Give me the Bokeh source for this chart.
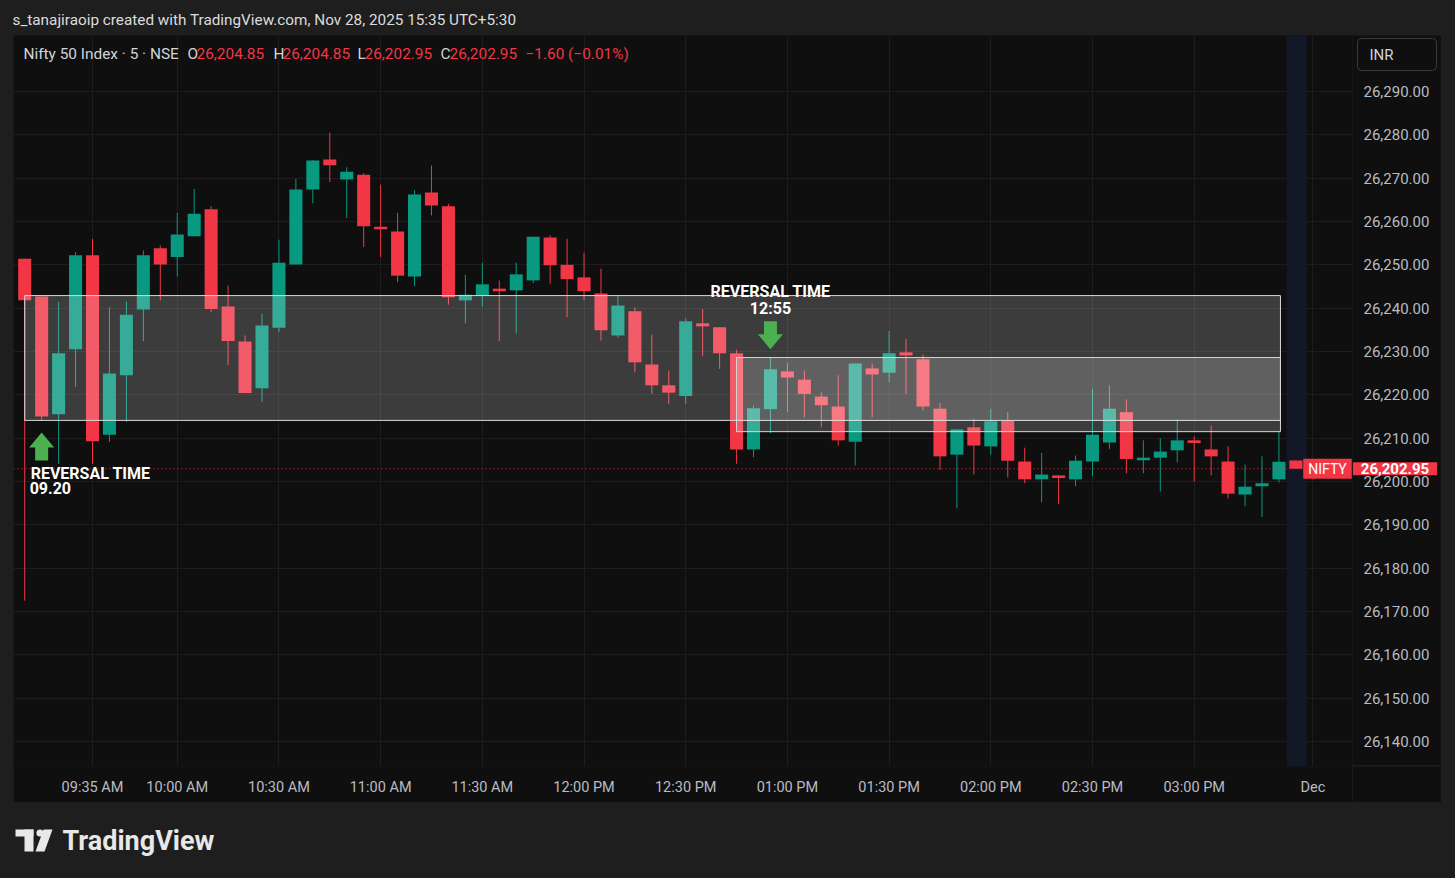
import pandas as pd
from bokeh.plotting import figure
from bokeh.models import (ColumnDataSource, Range1d, FixedTicker, Label, Span,
                          GlobalInlineStyleSheet)
from bokeh.core.properties import value
from bokeh.layouts import column, row
from bokeh.embed import file_html
from bokeh.resources import INLINE

# ---------------- data ----------------
session_start = "2025-11-28 09:15"
opens = [26251.4, 26242.7, 26215.5, 26230.5, 26252.2, 26210.8, 26224.5, 26239.7, 26253.8, 26251.8,
         26256.6, 26262.8, 26240.4, 26232.3, 26221.5, 26235.5, 26250.1, 26267.4, 26274.3, 26269.7,
         26270.8, 26258.8, 26257.7, 26247.3, 26266.7, 26263.5, 26241.8, 26242.8, 26244.5, 26244.1,
         26246.4, 26256.3, 26250.0, 26247.1, 26243.4, 26233.7, 26239.3, 26227.0, 26222.2, 26219.7,
         26236.5, 26235.6, 26229.6, 26207.4, 26216.7, 26225.4, 26223.5, 26219.6, 26217.3, 26209.2,
         26226.1, 26225.1, 26229.8, 26228.2, 26216.8, 26206.2, 26212.5, 26208.1, 26214.0, 26204.6,
         26200.5, 26201.4, 26200.5, 26204.6, 26209.0, 26216.0, 26204.9, 26205.5, 26207.2, 26209.5,
         26207.4, 26204.6, 26197.0, 26198.9, 26200.5, 26204.85]
highs = [26251.4, 26242.7, 26241.4, 26252.9, 26256.0, 26240.2, 26241.5, 26253.3, 26254.5, 26262.0,
         26267.5, 26263.5, 26245.2, 26233.7, 26238.7, 26255.8, 26269.8, 26274.2, 26280.5, 26272.5,
         26271.2, 26268.5, 26262.0, 26267.2, 26272.9, 26264.1, 26247.7, 26250.5, 26246.4, 26250.5,
         26256.5, 26256.8, 26256.0, 26252.8, 26249.1, 26242.9, 26240.2, 26233.9, 26225.6, 26237.7,
         26239.8, 26235.6, 26230.4, 26217.5, 26228.7, 26227.3, 26225.6, 26220.6, 26224.5, 26227.2,
         26227.2, 26234.7, 26232.9, 26229.3, 26218.1, 26212.0, 26214.5, 26216.8, 26216.0, 26207.8,
         26206.6, 26201.4, 26206.0, 26221.4, 26222.2, 26218.9, 26209.5, 26210.0, 26214.3, 26210.4,
         26212.9, 26208.1, 26203.9, 26205.8, 26211.4, 26204.85]
lows = [26172.5, 26214.1, 26204.1, 26221.8, 26204.1, 26209.1, 26213.7, 26232.4, 26241.8, 26247.3,
        26256.6, 26239.1, 26226.9, 26220.4, 26218.3, 26234.5, 26250.1, 26264.2, 26269.1, 26260.8,
        26254.1, 26251.8, 26246.0, 26245.1, 26261.4, 26240.8, 26236.5, 26240.4, 26232.4, 26234.2,
        26245.8, 26245.6, 26237.9, 26241.9, 26232.5, 26233.2, 26225.2, 26220.2, 26217.9, 26217.9,
        26228.9, 26226.0, 26204.1, 26205.6, 26211.1, 26216.0, 26214.8, 26212.5, 26208.3, 26203.7,
        26214.8, 26222.9, 26220.2, 26216.4, 26202.7, 26193.8, 26201.6, 26206.2, 26200.9, 26199.6,
        26195.2, 26194.8, 26198.9, 26201.2, 26207.5, 26201.9, 26201.9, 26197.7, 26204.4, 26200.0,
        26201.4, 26196.1, 26194.3, 26191.8, 26199.8, 26202.95]
closes = [26241.8, 26215.0, 26229.6, 26252.2, 26209.3, 26224.9, 26238.5, 26252.2, 26250.1, 26257.0,
          26261.8, 26239.8, 26232.4, 26220.4, 26236.0, 26250.5, 26267.4, 26274.1, 26273.0, 26271.5,
          26258.9, 26258.2, 26247.5, 26266.2, 26263.7, 26242.5, 26243.1, 26245.5, 26243.9, 26247.8,
          26256.5, 26249.9, 26246.7, 26243.9, 26234.9, 26240.6, 26227.5, 26222.2, 26220.5, 26237.0,
          26235.8, 26229.6, 26207.4, 26216.9, 26225.9, 26224.0, 26220.2, 26217.6, 26209.5, 26227.2,
          26224.7, 26229.6, 26229.1, 26217.3, 26205.8, 26212.0, 26208.3, 26213.9, 26204.8, 26200.5,
          26201.6, 26200.8, 26204.8, 26210.8, 26216.8, 26205.2, 26205.5, 26206.9, 26209.5, 26208.9,
          26205.8, 26197.2, 26198.8, 26199.6, 26204.55, 26202.95]

tick_times = ["09:35", "10:00", "10:30", "11:00", "11:30", "12:00", "12:30",
              "13:00", "13:30", "14:00", "14:30", "15:00", "Dec"]
tick_labels = ["09:35 AM", "10:00 AM", "10:30 AM", "11:00 AM", "11:30 AM", "12:00 PM", "12:30 PM",
               "01:00 PM", "01:30 PM", "02:00 PM", "02:30 PM", "03:00 PM", "Dec"]
price_ticks = [26140, 26150, 26160, 26170, 26180, 26190, 26200, 26210,
               26220, 26230, 26240, 26250, 26260, 26270, 26280, 26290]

zone_start = ["09:15", "12:45"]
zone_end = ["15:25", "15:25"]
zone_top = [26242.9, 26228.6]
zone_bottom = [26214.1, 26211.5]

reversal_times = ["09:20", "12:55"]
reversal_texts = ["09.20", "12:55"]
reversal_tips = [26211.3, 26230.5]
reversal_dirs = ["up", "down"]

symbol = "Nifty 50 Index · 5 · NSE"
ticker_name = "NIFTY"
currency = "INR"
header_text = "s_tanajiraoip created with TradingView.com, Nov 28, 2025 15:35 UTC+5:30"

# ---------------- derived ----------------
n = len(opens)
times = pd.date_range(session_start, periods=n, freq="5min").strftime("%H:%M").tolist()
pos = {t: i for i, t in enumerate(times)}
pos["Dec"] = n  # next session start

FONT = "Roboto"
BG = "#0f0f0f"
PAGE = "#1e1e1e"
UP, DOWN = "#089981", "#f23645"
TXT = "#d1d4dc"
AXTXT = "#b8bcc4"

FRAME_W, FRAME_H = 1339, 731
X0, X1 = -0.661, 78.34
Y0, Y1 = 26134.23, 26302.92
ux = (X1 - X0) / FRAME_W   # data units per pixel
uy = (Y1 - Y0) / FRAME_H

# ---------------- main chart pane ----------------
p = figure(width=FRAME_W, height=767, x_range=Range1d(X0, X1), y_range=Range1d(Y0, Y1),
           y_axis_location=None, output_backend="svg", toolbar_location=None,
           min_border_left=0, min_border_top=0, min_border_right=0, min_border_bottom=36,
           background_fill_color=BG, border_fill_color=BG, outline_line_color=None)
p.margin = (0, 0, 0, 13)

tick_pos = [pos[t] for t in tick_times]
p.xaxis.ticker = FixedTicker(ticks=tick_pos)
p.xaxis.major_label_overrides = {k: v for k, v in zip(tick_pos, tick_labels)}
p.xaxis.axis_line_color = None
p.xaxis.major_tick_line_color = None
p.xaxis.minor_tick_line_color = None
p.xaxis.major_label_text_color = AXTXT
p.xaxis.major_label_text_font = FONT
p.xaxis.major_label_text_font_size = "14.5px"
p.xaxis.major_label_standoff = 6
for g in p.ygrid:
    g.ticker = FixedTicker(ticks=price_ticks)
p.grid.grid_line_color = "#1d1d1d"

# last-bar highlight band
p.quad(left=[n - 1 - 0.55], right=[n - 1 + 0.65], bottom=[Y0], top=[Y1],
       fill_color="#121826", line_color=None)

src = ColumnDataSource(dict(
    x=list(range(n)), o=opens, h=highs, l=lows, c=closes,
    top=[max(o, c) for o, c in zip(opens, closes)],
    bottom=[min(o, c) for o, c in zip(opens, closes)],
    color=[UP if c >= o else DOWN for o, c in zip(opens, closes)],
))
p.segment(x0="x", y0="l", x1="x", y1="h", line_color="color", line_width=1, source=src)
p.vbar(x="x", top="top", bottom="bottom", width=0.77, fill_color="color", line_color=None, source=src)

# zones
p.quad(left=[pos[t] for t in zone_start], right=[pos[t] + 0.09 for t in zone_end],
       top=zone_top, bottom=zone_bottom, fill_color="white", fill_alpha=0.19,
       line_color="#d8d8d8", line_width=1)

# last price line
last_close = closes[-1]
p.add_layout(Span(location=last_close, dimension="width", line_color=DOWN,
                  line_dash="1 3", line_width=1))

# reversal arrows + labels
up_shape = [(0, 0), (12.5, -15), (6.5, -15), (6.5, -28), (-6.5, -28), (-6.5, -15), (-12.5, -15)]
lab_kw = dict(text_font=FONT, text_font_size="16px", text_font_style="bold",
              text_color="white", text_baseline="top")
for t, txt, tip, d in zip(reversal_times, reversal_texts, reversal_tips, reversal_dirs):
    xi = pos[t]
    sgn = 1 if d == "up" else -1
    xs = [xi + dx * ux for dx, dy in up_shape]
    ys = [tip + sgn * dy * uy for dx, dy in up_shape]
    p.patch(xs, ys, fill_color="#4caf50", line_color=None)
    if d == "up":
        p.add_layout(Label(x=xi, y=tip, x_offset=-11, y_offset=-31, text="REVERSAL TIME",
                           text_align="left", **lab_kw))
        p.add_layout(Label(x=xi, y=tip, x_offset=-12, y_offset=-49, text=txt,
                           text_align="left", **lab_kw))
    else:
        p.add_layout(Label(x=xi, y=tip, x_offset=0, y_offset=67, text="REVERSAL TIME",
                           text_align="center", **lab_kw))
        p.add_layout(Label(x=xi, y=tip, x_offset=0, y_offset=50, text=txt,
                           text_align="center", **lab_kw))

# OHLC legend inside the pane
chg = closes[-1] - closes[-2]
pct = chg / closes[-2] * 100
fmt = lambda v: f"{v:,.2f}"
items = [
    (10, symbol, TXT), (174, "O", TXT), (183, fmt(opens[-1]), DOWN),
    (260, "H", TXT), (269, fmt(highs[-1]), DOWN),
    (344, "L", TXT), (351, fmt(lows[-1]), DOWN),
    (427, "C", TXT), (436, fmt(closes[-1]), DOWN),
    (512, f"{chg:+.2f} ({pct:+.2f}%)".replace("-", "\u2212"), DOWN),
]
for x, t, col in items:
    p.add_layout(Label(x=x, y=713, x_units="screen", y_units="screen", text=t,
                       text_font=FONT, text_font_size="15.4px", text_color=col,
                       text_baseline="middle"))

# symbol tag at the right edge of the pane
p.add_layout(Label(x=1314, y=last_close, x_units="screen", text=ticker_name,
                   text_font=FONT, text_font_size="14px", text_color="white",
                   text_baseline="middle", text_align="center",
                   background_fill_color=DOWN, padding=dict(left=5, right=5, top=2, bottom=2)))

# ---------------- price scale pane ----------------
p2 = figure(width=89, height=767, x_range=Range1d(0, 89), y_range=p.y_range,
            x_axis_location=None, y_axis_location=None, output_backend="svg",
            toolbar_location=None, min_border_left=0, min_border_top=0,
            min_border_right=0, min_border_bottom=36,
            background_fill_color=BG, border_fill_color=BG, outline_line_color=None)
p2.margin = (0, 14, 0, 0)
p2.grid.visible = False
p2.text(x=[11] * len(price_ticks), y=price_ticks, text=[fmt(v) for v in price_ticks],
        text_font=value(FONT), text_font_size="15px", text_color=AXTXT,
        text_baseline="middle", text_align="left")
p2.add_layout(Span(location=Y0 + 0.6 * uy, dimension="width", line_color="#2c2c2c", line_width=1))
p2.add_layout(Label(x=5, y=712, x_units="screen", y_units="screen", text=currency,
                    text_font=FONT, text_font_size="15px", text_color=TXT, text_baseline="middle",
                    background_fill_color=BG, border_line_color="#3a3a3a", border_radius=4,
                    padding=dict(left=12, right=43, top=7, bottom=7)))
p2.add_layout(Label(x=42.5, y=last_close, x_units="screen", text=fmt(last_close),
                    text_font=FONT, text_font_size="15px", text_font_style="bold",
                    text_color="white", text_baseline="middle", text_align="center",
                    background_fill_color=DOWN, padding=dict(left=8, right=8, top=1, bottom=1)))

# ---------------- header strip ----------------
hdr = figure(width=1455, height=35, x_range=Range1d(0, 1455), y_range=Range1d(0, 35),
             output_backend="svg", toolbar_location=None, min_border=0,
             x_axis_location=None, y_axis_location=None,
             background_fill_color=PAGE, border_fill_color=PAGE, outline_line_color=None)
hdr.grid.visible = False
hdr.add_layout(Label(x=12, y=16, x_units="screen", y_units="screen", text=header_text,
                     text_font=FONT, text_font_size="15.3px", text_color="#dcdcdc",
                     text_baseline="middle"))

# ---------------- footer strip ----------------
ftr = figure(width=1455, height=75, x_range=Range1d(0, 1455), y_range=Range1d(0, 75),
             output_backend="svg", toolbar_location=None, min_border=0,
             x_axis_location=None, y_axis_location=None,
             background_fill_color=PAGE, border_fill_color=PAGE, outline_line_color=None)
ftr.grid.visible = False
LOGO = "#e8e8e8"
ftr.quad(left=[15, 24], right=[33, 33], top=[48, 48], bottom=[41, 26], fill_color=LOGO, line_color=None)
ftr.circle(x=[39.5], y=[44.5], radius=3.6, fill_color=LOGO, line_color=None)
ftr.patch([43, 52, 44, 35], [48, 48, 26, 26], fill_color=LOGO, line_color=None)
ftr.add_layout(Label(x=62, y=37, x_units="screen", y_units="screen", text="TradingView",
                     text_font=FONT, text_font_size="27px", text_font_style="bold",
                     text_color=LOGO, text_baseline="middle"))

layout = column(hdr, row(p, p2, spacing=0), ftr, spacing=0)
layout.styles = {"background-color": PAGE}
layout.stylesheets = [GlobalInlineStyleSheet(
    css=f"html, body {{ background-color: {PAGE}; margin: 0; padding: 0; }}")]

open("out.html", "w").write(file_html(layout, INLINE))
